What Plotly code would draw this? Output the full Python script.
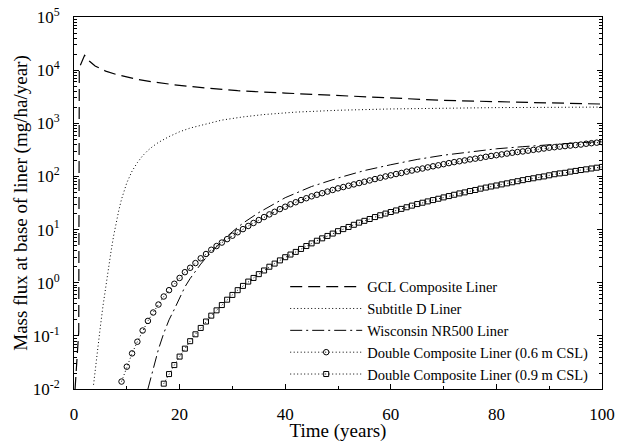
import plotly.graph_objects as go

# ---------------- data ----------------
gcl_t = [0.2, 0.9, 1.0, 2.0, 3.0, 4.0, 5.0, 6.0, 8.0, 10, 12, 15, 19, 25, 31, 40, 50, 60, 70, 80, 90, 100]
gcl_v = [0.01, 0.12, 11000, 19000, 14500, 12000, 10700, 9600, 8300, 7400, 6700, 6000, 5300, 4600,
         4100, 3700, 3300, 2950, 2700, 2550, 2400, 2300]

subd_t = [3.7, 4, 4.5, 5, 5.5, 6, 6.5, 7, 7.5, 8, 8.5, 9, 9.5, 10, 11, 12, 13, 14, 15, 16, 18, 20,
          22, 25, 28, 32, 36, 42, 50, 60, 70, 80, 90, 100]
subd_v = [0.0120, 0.0224, 0.0603, 0.151, 0.372, 0.851, 1.86, 3.80, 7.59, 13.8, 23.4, 37.2, 55.0,
          75.9, 126, 182, 245, 309, 372, 437, 562, 692, 813, 977, 1148, 1318, 1462, 1622, 1758,
          1862, 1928, 1972, 1995, 2018]

wis_t = [14, 15, 16, 17, 18, 19, 20, 21, 22, 23, 24, 25, 26, 27, 28, 29, 30, 32, 35, 40, 45, 50,
         55, 60, 65, 70, 75, 80, 85, 90, 95, 100]
wis_v = [0.010, 0.0251, 0.0562, 0.112, 0.200, 0.316, 0.525, 0.832, 1.20, 1.66, 2.24, 2.95, 3.80,
         4.79, 6.03, 7.41, 9.12, 13.2, 20.9, 39.8, 64.6, 93.3, 129, 166, 209, 251, 288, 331, 363,
         398, 427, 452]

dc06_t = list(range(9, 101))
dc06_v = [0.0138, 0.0263, 0.0468, 0.0776, 0.126, 0.191, 0.275, 0.389, 0.550, 0.724, 0.955, 1.23,
          1.58, 1.91, 2.34, 2.88, 3.47, 4.17, 4.90, 5.69, 6.61, 7.67, 8.91, 10.2, 11.7, 13.3, 15.1,
          17.2, 19.3, 21.6, 24.3, 26.9, 29.9, 32.7, 35.9, 38.9, 42.2, 45.2, 48.4, 51.9, 55.6, 59.6,
          63.1, 66.8, 70.8, 75.0, 79.4, 84.1, 89.1, 94.4, 100, 105, 111, 116, 123, 129, 135, 141,
          148, 155, 162, 170, 178, 186, 193, 200, 209, 216, 224, 234, 243, 251, 260, 269, 279, 288,
          295, 305, 316, 324, 335, 347, 355, 363, 372, 380, 389, 398, 412, 422, 432, 442]

dc09_t = list(range(17, 101))
dc09_v = [0.0126, 0.0191, 0.0282, 0.0407, 0.0575, 0.0794, 0.107, 0.141, 0.186, 0.240, 0.302, 0.380,
          0.479, 0.589, 0.724, 0.871, 1.05, 1.23, 1.45, 1.70, 2.00, 2.29, 2.63, 3.02, 3.39, 3.80,
          4.32, 4.90, 5.50, 6.17, 6.84, 7.59, 8.41, 9.33, 10.2, 11.2, 12.3, 13.5, 14.6, 15.8, 17.2,
          18.6, 20.0, 21.4, 22.9, 24.5, 26.3, 28.2, 30.2, 32.0, 33.9, 35.9, 38.0, 40.3, 42.7, 45.2,
          47.9, 50.1, 53.1, 55.6, 58.9, 61.7, 64.6, 67.6, 70.8, 74.1, 77.6, 81.3, 85.1, 89.1, 92.3,
          96.6, 100, 105, 110, 114, 117, 123, 127, 132, 136, 141, 146, 151]

x_ticks = [0, 20, 40, 60, 80, 100]
x_minor = [10, 30, 50, 70, 90]
y_exps = [-2, -1, 0, 1, 2, 3, 4, 5]
y_ticks = [10.0 ** e for e in y_exps]
y_ticktext = ["10<sup>%d</sup>" % e for e in y_exps]
y_minor = [m * 10.0 ** e for e in y_exps[:-1] for m in range(2, 10)]

FONT = "Liberation Serif, Times New Roman, serif"
DOT = "1px,2.5px"

fig = go.Figure()
fig.add_trace(go.Scatter(x=gcl_t, y=gcl_v, mode="lines", name="GCL Composite Liner",
                         line=dict(color="black", width=1.2, dash="12px,6px")))
fig.add_trace(go.Scatter(x=subd_t, y=subd_v, mode="lines", name="Subtitle D Liner",
                         line=dict(color="black", width=1, dash=DOT)))
fig.add_trace(go.Scatter(x=wis_t, y=wis_v, mode="lines", name="Wisconsin NR500 Liner",
                         line=dict(color="black", width=1, dash="12px,4px,2px,4px")))
fig.add_trace(go.Scatter(x=dc06_t, y=dc06_v, mode="lines+markers",
                         name="Double Composite Liner (0.6 m CSL)",
                         line=dict(color="black", width=1, dash=DOT),
                         marker=dict(symbol="circle-open", size=5.5, color="black",
                                     line=dict(width=1, color="black"))))
fig.add_trace(go.Scatter(x=dc09_t, y=dc09_v, mode="lines+markers",
                         name="Double Composite Liner (0.9 m CSL)",
                         line=dict(color="black", width=1, dash=DOT),
                         marker=dict(symbol="square-open", size=5, color="black",
                                     line=dict(width=1, color="black"))))

fig.update_layout(
    width=624, height=442,
    margin=dict(l=74, r=22, t=17, b=53),
    paper_bgcolor="white", plot_bgcolor="white",
    font=dict(family=FONT, color="black", size=17),
    showlegend=True,
    legend=dict(x=0.40, y=0.318, xanchor="left", yanchor="top",
                bgcolor="rgba(0,0,0,0)", font=dict(family=FONT, size=14.5, color="black"),
                itemwidth=72, tracegroupgap=0),
    xaxis=dict(range=[0, 100], tickvals=x_ticks, ticks="inside", ticklen=5, tickwidth=1,
               tickcolor="black", showline=True, linecolor="black", linewidth=1,
               mirror=True, showgrid=False, zeroline=False, automargin=False,
               minor=dict(tickvals=x_minor, ticks="inside", ticklen=3,
                          tickcolor="black", showgrid=False),
               tickfont=dict(family=FONT, size=17), ticklabelstandoff=10,
               ticklabeloverflow="allow",
               title=dict(text="Time (years)", font=dict(family=FONT, size=19), standoff=1)),
    yaxis=dict(type="log", range=[-2, 5], tickvals=y_ticks, ticktext=y_ticktext,
               ticks="inside", ticklen=5, tickwidth=1, tickcolor="black",
               showline=True, linecolor="black", linewidth=1, mirror="ticks",
               showgrid=False, zeroline=False, automargin=False,
               minor=dict(tickvals=y_minor, ticks="inside", ticklen=3, tickcolor="black",
                          showgrid=False),
               tickfont=dict(family=FONT, size=17), ticklabelstandoff=10,
               ticklabeloverflow="allow",
               title=dict(text="Mass flux at base of liner (mg/ha/year)",
                          font=dict(family=FONT, size=19), standoff=0)),
)

fig.write_html("out.html", config={"displayModeBar": False},
               post_script="document.body.style.margin='0';")
